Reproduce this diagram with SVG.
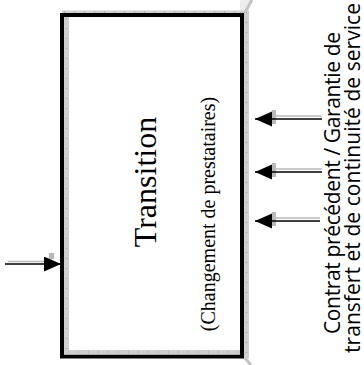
<svg xmlns="http://www.w3.org/2000/svg" width="364" height="365" viewBox="0 0 364 365">
<style>
.box{fill:#fff;stroke:#000;stroke-width:4}
.strip{fill:#cfcfcf}
.tick{stroke:#9a9a9a;stroke-width:1;stroke-dasharray:1 9;fill:none}
.shaft{stroke:#000;stroke-width:1.3;fill:none}
.shade{stroke:#b8b8b8;stroke-width:1.5;fill:none}
.serif{font-family:"Liberation Serif","Times New Roman",serif;fill:#000}
.sans{font-family:"Open Sans","Noto Sans","DejaVu Sans",sans-serif;font-size:21px;fill:#000}
</style>
<defs>
<marker id="ah" markerUnits="userSpaceOnUse" markerWidth="18" markerHeight="16" refX="17" refY="7.5" orient="auto">
<path d="M0,0 L17,7.5 L0,15 Z" fill="#000"/>
</marker>
</defs>
<g id="decor">
<polygon points="240,0 253,0 246,12 240,12" fill="#eeeeee"/>
<line x1="244" y1="14" x2="252" y2="0" stroke="#c4c4c4" stroke-width="3"/>
<line x1="244" y1="357" x2="251" y2="365" stroke="#c4c4c4" stroke-width="3"/>
</g>
<g id="transition">
<rect class="strip" x="62" y="10.5" width="186" height="3"/>
<rect class="strip" x="244" y="10.5" width="5" height="348"/>
<rect class="box" x="62" y="15" width="180" height="341.5"/>
<rect class="strip" x="64" y="17" width="5" height="337"/>
<rect class="strip" x="64" y="350" width="176" height="4.5"/>
<line class="tick" x1="64" y1="12" x2="248" y2="12"/>
<line class="tick" x1="66.5" y1="18" x2="66.5" y2="354"/>
<line class="tick" x1="68" y1="352" x2="240" y2="352"/>
<line class="tick" x1="246.5" y1="12" x2="246.5" y2="358"/>
<text class="serif" font-size="32" text-anchor="middle" transform="translate(156,182) rotate(-90)">Transition</text>
<text class="serif" font-size="20" text-anchor="middle" transform="translate(215,214) rotate(-90)">(Changement de prestataires)</text>
</g>
<g id="label">
<text class="sans" transform="translate(340,334) rotate(-90)" textLength="302" lengthAdjust="spacing">Contrat précédent / Garantie de</text>
<text class="sans" transform="translate(360,353) rotate(-90)" textLength="350" lengthAdjust="spacing">transfert et de continuité de service</text>
</g>
<g id="connectors">
<line class="shade" x1="273" y1="116" x2="322" y2="116"/>
<line class="shade" x1="273" y1="169" x2="322" y2="169"/>
<line class="shade" x1="273" y1="218" x2="320" y2="218"/>
<line class="shade" x1="8" y1="261.5" x2="45" y2="261.5"/>
<rect x="272" y="110" width="4" height="14" fill="#b8b8b8"/>
<rect x="272" y="163" width="4" height="14" fill="#b8b8b8"/>
<rect x="272" y="212" width="4" height="14" fill="#b8b8b8"/>
<rect x="49" y="253" width="5" height="6" fill="#b8b8b8"/>
<line class="shaft" x1="322" y1="119" x2="255" y2="119" marker-end="url(#ah)"/>
<line class="shaft" x1="322" y1="172" x2="255" y2="172" marker-end="url(#ah)"/>
<line class="shaft" x1="320" y1="221" x2="255" y2="221" marker-end="url(#ah)"/>
<line class="shaft" x1="5" y1="264" x2="61" y2="264" marker-end="url(#ah)"/>
</g>
</svg>
